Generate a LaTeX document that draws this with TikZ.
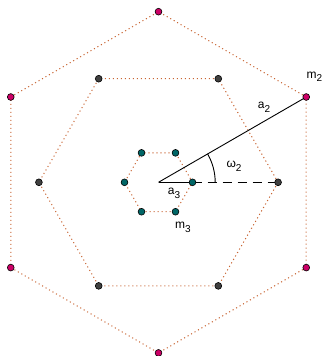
\documentclass[tikz,border=0pt]{standalone}
\usepackage{fontspec}
\setmainfont{Liberation Sans}
\usetikzlibrary{calc}
\newcommand{\mysub}[1]{\raisebox{-3.5pt}{\fontsize{10}{12}\selectfont #1}}
\begin{document}
\begin{tikzpicture}[x=1pt,y=1pt,
  dotline/.style={draw={rgb,255:red,200;green,100;blue,50}, line width=1pt, dash pattern=on 1.1pt off 2.9pt},
  pt/.style={circle, draw=black, line width=0.6pt, inner sep=0pt, minimum size=6.8pt},
  outerpt/.style={pt, fill={rgb,255:red,204;green,0;blue,102}},
  midpt/.style={pt, fill={rgb,255:red,64;green,64;blue,64}},
  innerpt/.style={pt, fill={rgb,255:red,0;green,102;blue,102}},
  lbl/.style={font=\fontsize{12}{14}\selectfont, inner sep=0pt},
  arm/.style={draw=black, line width=0.9pt}]
\useasboundingbox (0,0) rectangle (323,356);
\coordinate (c) at (158.5,173.7);
% vertices
\foreach \a in {30,90,150,210,270,330} {\coordinate (po\a) at ($(c)+(\a:170.6)$);}
\foreach \a in {0,60,120,180,240,300} {\coordinate (pm\a) at ($(c)+(\a:119.6)$);}
\foreach \a in {0,60,120,180,240,300} {\coordinate (pi\a) at ($(c)+(\a:34)$);}
% hexagon edges
\draw[dotline] (po30) -- (po90) -- (po150) -- (po210) -- (po270) -- (po330) -- cycle;
\draw[dotline] (pm0) -- (pm60) -- (pm120) -- (pm180) -- (pm240) -- (pm300) -- cycle;
\draw[dotline] (pi0) -- (pi60) -- (pi120) -- (pi180) -- (pi240) -- (pi300) -- cycle;
% arms
\draw[arm] (c) -- (po30);
\draw[arm] (c) -- (pi0);
\draw[arm, dash pattern=on 9pt off 6pt] (pi0) -- (pm0);
\draw[arm] ($(c)+(0:56.7)$) arc (0:30:56.7);
% points
\foreach \a in {30,90,150,210,270,330} {\node[outerpt] (o\a) at (po\a) {};}
\foreach \a in {0,60,120,180,240,300} {\node[midpt] (m\a) at (pm\a) {};}
\foreach \a in {0,60,120,180,240,300} {\node[innerpt] (i\a) at (pi\a) {};}
% labels
\node[lbl] (lm2) at (314.5,279) {m\mysub{2}};
\node[lbl] (la2) at (264,248.5) {a\mysub{2}};
\node[lbl] (lw2) at (234,189.5) {ω\mysub{2}};
\node[lbl] (la3) at (174,162.5) {a\mysub{3}};
\node[lbl] (lm3) at (183,128.5) {m\mysub{3}};
\end{tikzpicture}
\end{document}
